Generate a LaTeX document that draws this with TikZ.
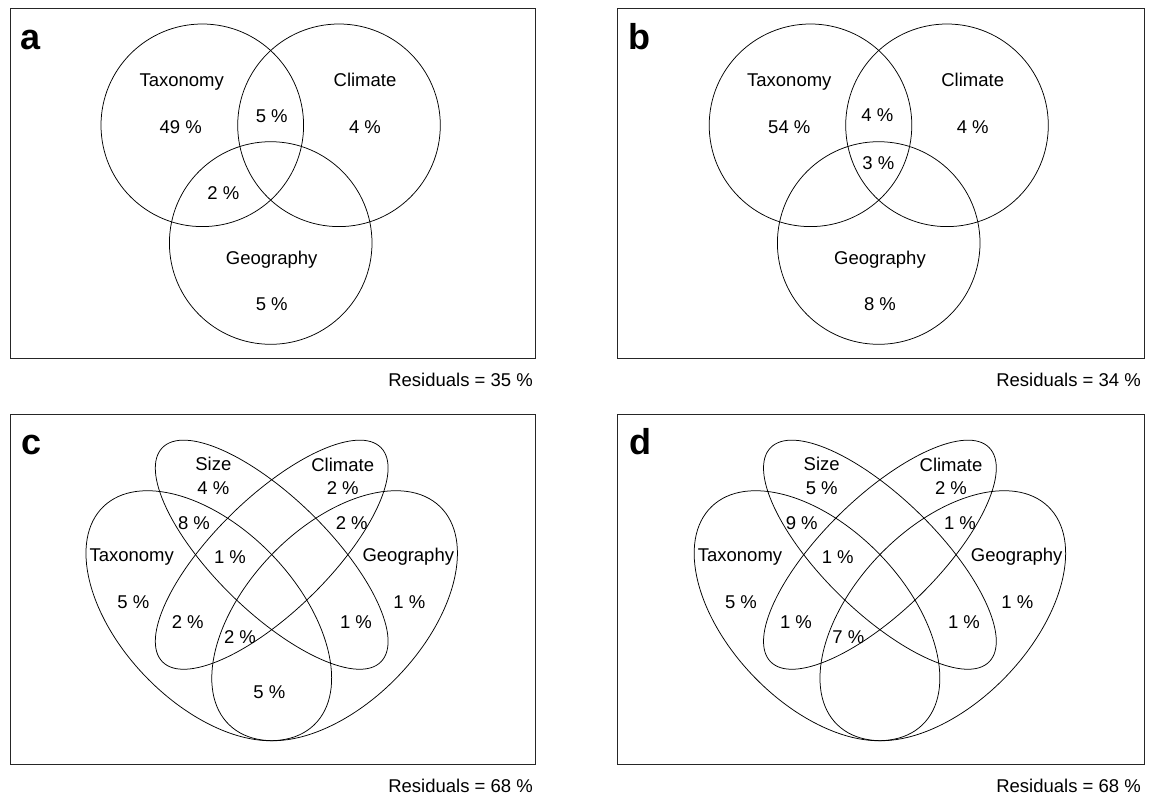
\documentclass[tikz,border=0pt]{standalone}
\usepackage{fontspec}
\setmainfont{Liberation Sans}
\begin{document}
\begin{tikzpicture}[x=1pt,y=-1pt,
  lbl/.style={font=\fontsize{18.5}{18.5}\selectfont, inner sep=0pt, text height=13.2pt, text depth=0pt},
  pl/.style={font=\fontsize{36}{36}\selectfont\bfseries, inner sep=0pt, anchor=base west},
  frame/.style={draw=black!85, line width=1pt},
  setline/.style={draw=black, line width=0.75pt}]
\useasboundingbox (0,0) rectangle (1159,796);

% ---------------- panel a ----------------
\draw[frame] (10,8) rectangle (535.7,358.5);
\node[pl] (la) at (20.5,49.3) {a};
\coordinate (aT) at (202.3,125.3);
\coordinate (aC) at (339,125.3);
\coordinate (aG) at (270.7,243);
\draw[setline] (aT) circle[radius=101.3pt];
\draw[setline] (aC) circle[radius=101.3pt];
\draw[setline] (aG) circle[radius=101.3pt];
\node[lbl] (aTl) at (181.7,80) {Taxonomy};
\node[lbl] (aTv) at (180.7,126.7) {49 \%};
\node[lbl] (aTC) at (271.7,116) {5 \%};
\node[lbl] (aCl) at (365,80) {Climate};
\node[lbl] (aCv) at (365,126.7) {4 \%};
\node[lbl] (aTG) at (223.3,192.7) {2 \%};
\node[lbl] (aGl) at (271.7,258.3) {Geography};
\node[lbl] (aGv) at (271.7,304) {5 \%};
\node[lbl, anchor=east] (aR) at (533,380) {Residuals = 35 \%};

% ---------------- panel b ----------------
\draw[frame] (617.5,8) rectangle (1144,358.5);
\node[pl] (lb) at (628.5,49.3) {b};
\coordinate (bT) at (810.5,125.3);
\coordinate (bC) at (947,125.3);
\coordinate (bG) at (878.7,243);
\draw[setline] (bT) circle[radius=101.3pt];
\draw[setline] (bC) circle[radius=101.3pt];
\draw[setline] (bG) circle[radius=101.3pt];
\node[lbl] (bTl) at (789.3,80) {Taxonomy};
\node[lbl] (bTv) at (789.3,126.7) {54 \%};
\node[lbl] (bTC) at (877.3,115) {4 \%};
\node[lbl] (bTCG) at (878.3,163.3) {3 \%};
\node[lbl] (bCl) at (972.7,80) {Climate};
\node[lbl] (bCv) at (972.7,126.7) {4 \%};
\node[lbl] (bGl) at (880,258.3) {Geography};
\node[lbl] (bGv) at (880,304) {8 \%};
\node[lbl, anchor=east] (bR) at (1141,380) {Residuals = 34 \%};

% ---------------- panel c ----------------
\draw[frame] (10,414) rectangle (535.7,764);
\node[pl] (lc) at (21,454) {c};
\coordinate (cT) at (208.8,615.7);
\coordinate (cG) at (334.6,615.7);
\coordinate (cI) at (271.7,554.7);
\draw[setline, rotate around={-46:(cT)}] (cT) ellipse[x radius=151.7pt, y radius=87.7pt];
\draw[setline, rotate around={46:(cG)}] (cG) ellipse[x radius=151.7pt, y radius=87.7pt];
\draw[setline, rotate around={-44.4:(cI)}] (cI) ellipse[x radius=153pt, y radius=57pt];
\draw[setline, rotate around={44.4:(cI)}] (cI) ellipse[x radius=153pt, y radius=57pt];
\node[lbl] (cSl) at (213.3,464.3) {Size};
\node[lbl] (cSv) at (213.3,488.3) {4 \%};
\node[lbl] (cCl) at (342.7,465) {Climate};
\node[lbl] (cCv) at (342.7,488.3) {2 \%};
\node[lbl] (cTS) at (194,523.3) {8 \%};
\node[lbl] (cCG) at (351.7,523.3) {2 \%};
\node[lbl] (cTl) at (131.7,555) {Taxonomy};
\node[lbl] (cTSC) at (230,556.7) {1 \%};
\node[lbl] (cGl) at (408.3,555) {Geography};
\node[lbl] (cTv) at (133.3,601.7) {5 \%};
\node[lbl] (cGv) at (409.3,601.7) {1 \%};
\node[lbl] (cTC) at (187.7,621.7) {2 \%};
\node[lbl] (cSG) at (356,621.7) {1 \%};
\node[lbl] (cTCG) at (240,636.7) {2 \%};
\node[lbl] (cTG) at (269.3,691.7) {5 \%};
\node[lbl, anchor=east] (cR) at (533,785.7) {Residuals = 68 \%};

% ---------------- panel d ----------------
\draw[frame] (617.5,414) rectangle (1144,764);
\node[pl] (ld) at (629,454) {d};
\coordinate (dT) at (817,615.7);
\coordinate (dG) at (942.8,615.7);
\coordinate (dI) at (879.9,554.7);
\draw[setline, rotate around={-46:(dT)}] (dT) ellipse[x radius=151.7pt, y radius=87.7pt];
\draw[setline, rotate around={46:(dG)}] (dG) ellipse[x radius=151.7pt, y radius=87.7pt];
\draw[setline, rotate around={-44.4:(dI)}] (dI) ellipse[x radius=153pt, y radius=57pt];
\draw[setline, rotate around={44.4:(dI)}] (dI) ellipse[x radius=153pt, y radius=57pt];
\node[lbl] (dSl) at (821.7,464.3) {Size};
\node[lbl] (dSv) at (821.7,488.3) {5 \%};
\node[lbl] (dCl) at (951,465) {Climate};
\node[lbl] (dCv) at (951,488.3) {2 \%};
\node[lbl] (dTS) at (801.7,523.3) {9 \%};
\node[lbl] (dCG) at (960,523.3) {1 \%};
\node[lbl] (dTl) at (740,555) {Taxonomy};
\node[lbl] (dTSC) at (837.7,556.7) {1 \%};
\node[lbl] (dGl) at (1016.7,555) {Geography};
\node[lbl] (dTv) at (741,601.7) {5 \%};
\node[lbl] (dGv) at (1017.3,601.7) {1 \%};
\node[lbl] (dTC) at (796,621.7) {1 \%};
\node[lbl] (dSG) at (964,621.7) {1 \%};
\node[lbl] (dTCG) at (848.3,636.7) {7 \%};
\node[lbl, anchor=east] (dR) at (1141,785.7) {Residuals = 68 \%};
\end{tikzpicture}
\end{document}
